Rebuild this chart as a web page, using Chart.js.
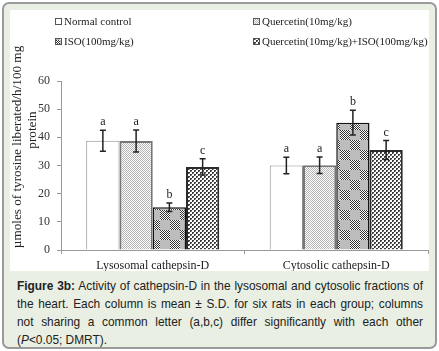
<!DOCTYPE html>
<html>
<head>
<meta charset="utf-8">
<script src="https://cdn.jsdelivr.net/npm/chart.js@4"></script>
<style>
body { margin: 0; background: #fff; }
#frame { position: absolute; left: 2px; top: 2px; width: 431px; height: 343px; border: 2px solid #9a9a9a; border-radius: 7px; background: #e9efe2; }
#box { position: absolute; left: 10px; top: 10px; width: 419px; height: 261px; background: #fff; }
#cap { position: absolute; left: 17px; top: 277px; width: 406px; font: 11.9px "Liberation Sans", Arial, sans-serif; line-height: 18px; color: #222; text-align: justify; }
</style>
</head>
<body>
<div id="frame"></div>
<div id="box"><canvas id="c" width="419" height="261"></canvas></div>
<div id="cap"><b>Figure 3b:</b> Activity of cathepsin-D in the lysosomal and cytosolic fractions of the heart. Each column is mean ± S.D. for six rats in each group; columns not sharing a common letter (a,b,c) differ significantly with each other (<i>P</i>&lt;0.05; DMRT).</div>
<script>
// data
const categories = ["Lysosomal cathepsin-D", "Cytosolic cathepsin-D"];
const seriesNames = ["Normal control", "Quercetin(10mg/kg)", "ISO(100mg/kg)", "Quercetin(10mg/kg)+ISO(100mg/kg)"];
const normalControl = [38.8, 30.0];
const quercetin = [38.7, 30.1];
const iso = [15.2, 45.2];
const quercetinIso = [29.5, 35.5];
const normalSD = [3.7, 2.9];
const quercetinSD = [3.9, 2.9];
const isoSD = [1.5, 4.4];
const quercetinIsoSD = [2.9, 3.4];
const normalLetters = ["a", "a"];
const quercetinLetters = ["a", "a"];
const isoLetters = ["b", "b"];
const quercetinIsoLetters = ["c", "c"];
const yTicks = [0, 10, 20, 30, 40, 50, 60];

const serif = '"Liberation Serif", "Times New Roman", serif';

// fill patterns like the excel ones
function makePattern(kind) {
    var p = document.createElement("canvas");
    var g = p.getContext("2d");
    if (kind == "plain") {
        p.width = p.height = 2;
        g.fillStyle = "#fff"; g.fillRect(0, 0, 2, 2);
    } else if (kind == "light") {
        p.width = p.height = 2;
        g.fillStyle = "#fff"; g.fillRect(0, 0, 2, 2);
        g.fillStyle = "#b4b4b4"; g.fillRect(0, 0, 1, 1); g.fillRect(1, 1, 1, 1);
    } else if (kind == "blocks") {
        p.width = p.height = 20;
        g.fillStyle = "#bdbdbd"; g.fillRect(0, 0, 20, 20);
        for (var i = 0; i < 20; i++) {
            for (var j = 0; j < 20; j++) {
                var inFine = (i < 10) != (j < 10);
                if (inFine) {
                    g.fillStyle = (i + j) % 2 ? "#fff" : "#333";
                    g.fillRect(i, j, 1, 1);
                }
            }
        }
    } else {
        p.width = p.height = 4;
        g.fillStyle = "#fff"; g.fillRect(0, 0, 4, 4);
        g.fillStyle = "#3a3a3a"; g.fillRect(0, 0, 2, 2); g.fillRect(2, 2, 2, 2);
        g.fillStyle = "#9a9a9a"; g.fillRect(1, 1, 1, 1); g.fillRect(3, 3, 1, 1);
    }
    return g.createPattern(p, "repeat");
}

var fills = [makePattern("plain"), makePattern("light"), makePattern("blocks"), makePattern("cross")];
var edges = ["#8c8c8c", "#777", "#111", "#2a2a2a"];
var edgeW = [1, 2, 1.5, 2];
var values = [normalControl, quercetin, iso, quercetinIso];
var sds = [normalSD, quercetinSD, isoSD, quercetinIsoSD];
var letters = [normalLetters, quercetinLetters, isoLetters, quercetinIsoLetters];

var datasets = values.map(function (v, k) {
    return {
        label: seriesNames[k],
        data: v,
        sd: sds[k],
        letters: letters[k],
        backgroundColor: fills[k],
        borderColor: edges[k],
        borderWidth: edgeW[k]
    };
});

// error bars, letters, legend, y title
var extras = {
    id: "extras",
    afterDatasetsDraw: function (chart) {
        var ctx = chart.ctx;
        var y = chart.scales.y;
        ctx.save();
        chart.data.datasets.forEach(function (ds, k) {
            chart.getDatasetMeta(k).data.forEach(function (bar, i) {
                var top = y.getPixelForValue(ds.data[i] + ds.sd[i]);
                var bot = y.getPixelForValue(ds.data[i] - ds.sd[i]);
                ctx.strokeStyle = "#222";
                ctx.lineWidth = 1.5;
                ctx.beginPath();
                ctx.moveTo(bar.x, top); ctx.lineTo(bar.x, bot);
                ctx.moveTo(bar.x - 3, top); ctx.lineTo(bar.x + 3, top);
                ctx.moveTo(bar.x - 3, bot); ctx.lineTo(bar.x + 3, bot);
                ctx.stroke();
                ctx.fillStyle = "#222";
                ctx.font = "12px " + serif;
                ctx.textAlign = "center";
                ctx.textBaseline = "bottom";
                ctx.fillText(ds.letters[i], bar.x, top - 2);
            });
        });
        ctx.restore();
    },
    afterDraw: function (chart) {
        var ctx = chart.ctx;
        ctx.save();
        // legend in two columns
        var spots = [[45, 5], [243, 5], [45, 25], [243, 25]];
        ctx.font = "11px " + serif;
        ctx.textBaseline = "middle";
        ctx.textAlign = "left";
        chart.data.datasets.forEach(function (ds, k) {
            var sx = spots[k][0], sy = spots[k][1];
            ctx.fillStyle = ds.backgroundColor;
            ctx.fillRect(sx, sy + 3, 6, 6);
            ctx.strokeStyle = "#555";
            ctx.lineWidth = 1;
            ctx.strokeRect(sx + 0.5, sy + 3.5, 6, 6);
            ctx.fillStyle = "#222";
            ctx.fillText(ds.label, sx + 9, sy + 7);
        });
        // y axis title, two lines
        ctx.font = "13.2px " + serif;
        ctx.fillStyle = "#222";
        ctx.textAlign = "center";
        ctx.translate(8, 137);
        ctx.rotate(-Math.PI / 2);
        ctx.fillText("\u00b5moles of tyrosine liberated/h/100 mg", 0, 0);
        ctx.fillText("protein", 17, 15);
        ctx.restore();
    }
};

new Chart(document.getElementById("c").getContext("2d"), {
    type: "bar",
    data: { labels: categories, datasets: datasets },
    plugins: [extras],
    options: {
        responsive: false,
        animation: false,
        layout: { padding: { top: 71, right: 1, left: 0, bottom: 0 } },
        datasets: { bar: { categoryPercentage: 0.725, barPercentage: 1.0 } },
        plugins: { legend: { display: false }, tooltip: { enabled: false } },
        scales: {
            x: {
                afterFit: function (s) { s.height = 21; },
                grid: { drawOnChartArea: false, tickLength: 4, color: "#999" },
                border: { color: "#999" },
                ticks: { padding: 5, color: "#222", font: { family: serif, size: 12 } }
            },
            y: {
                min: 0,
                max: 60,
                afterFit: function (s) { s.width = 51; },
                afterBuildTicks: function (s) { s.ticks = yTicks.map(function (v) { return { value: v }; }); },
                grid: { drawOnChartArea: false, tickLength: 4, color: "#999" },
                border: { color: "#999" },
                ticks: { padding: 7, color: "#333", font: { family: serif, size: 12 } }
            }
        }
    }
});
</script>
</body>
</html>
